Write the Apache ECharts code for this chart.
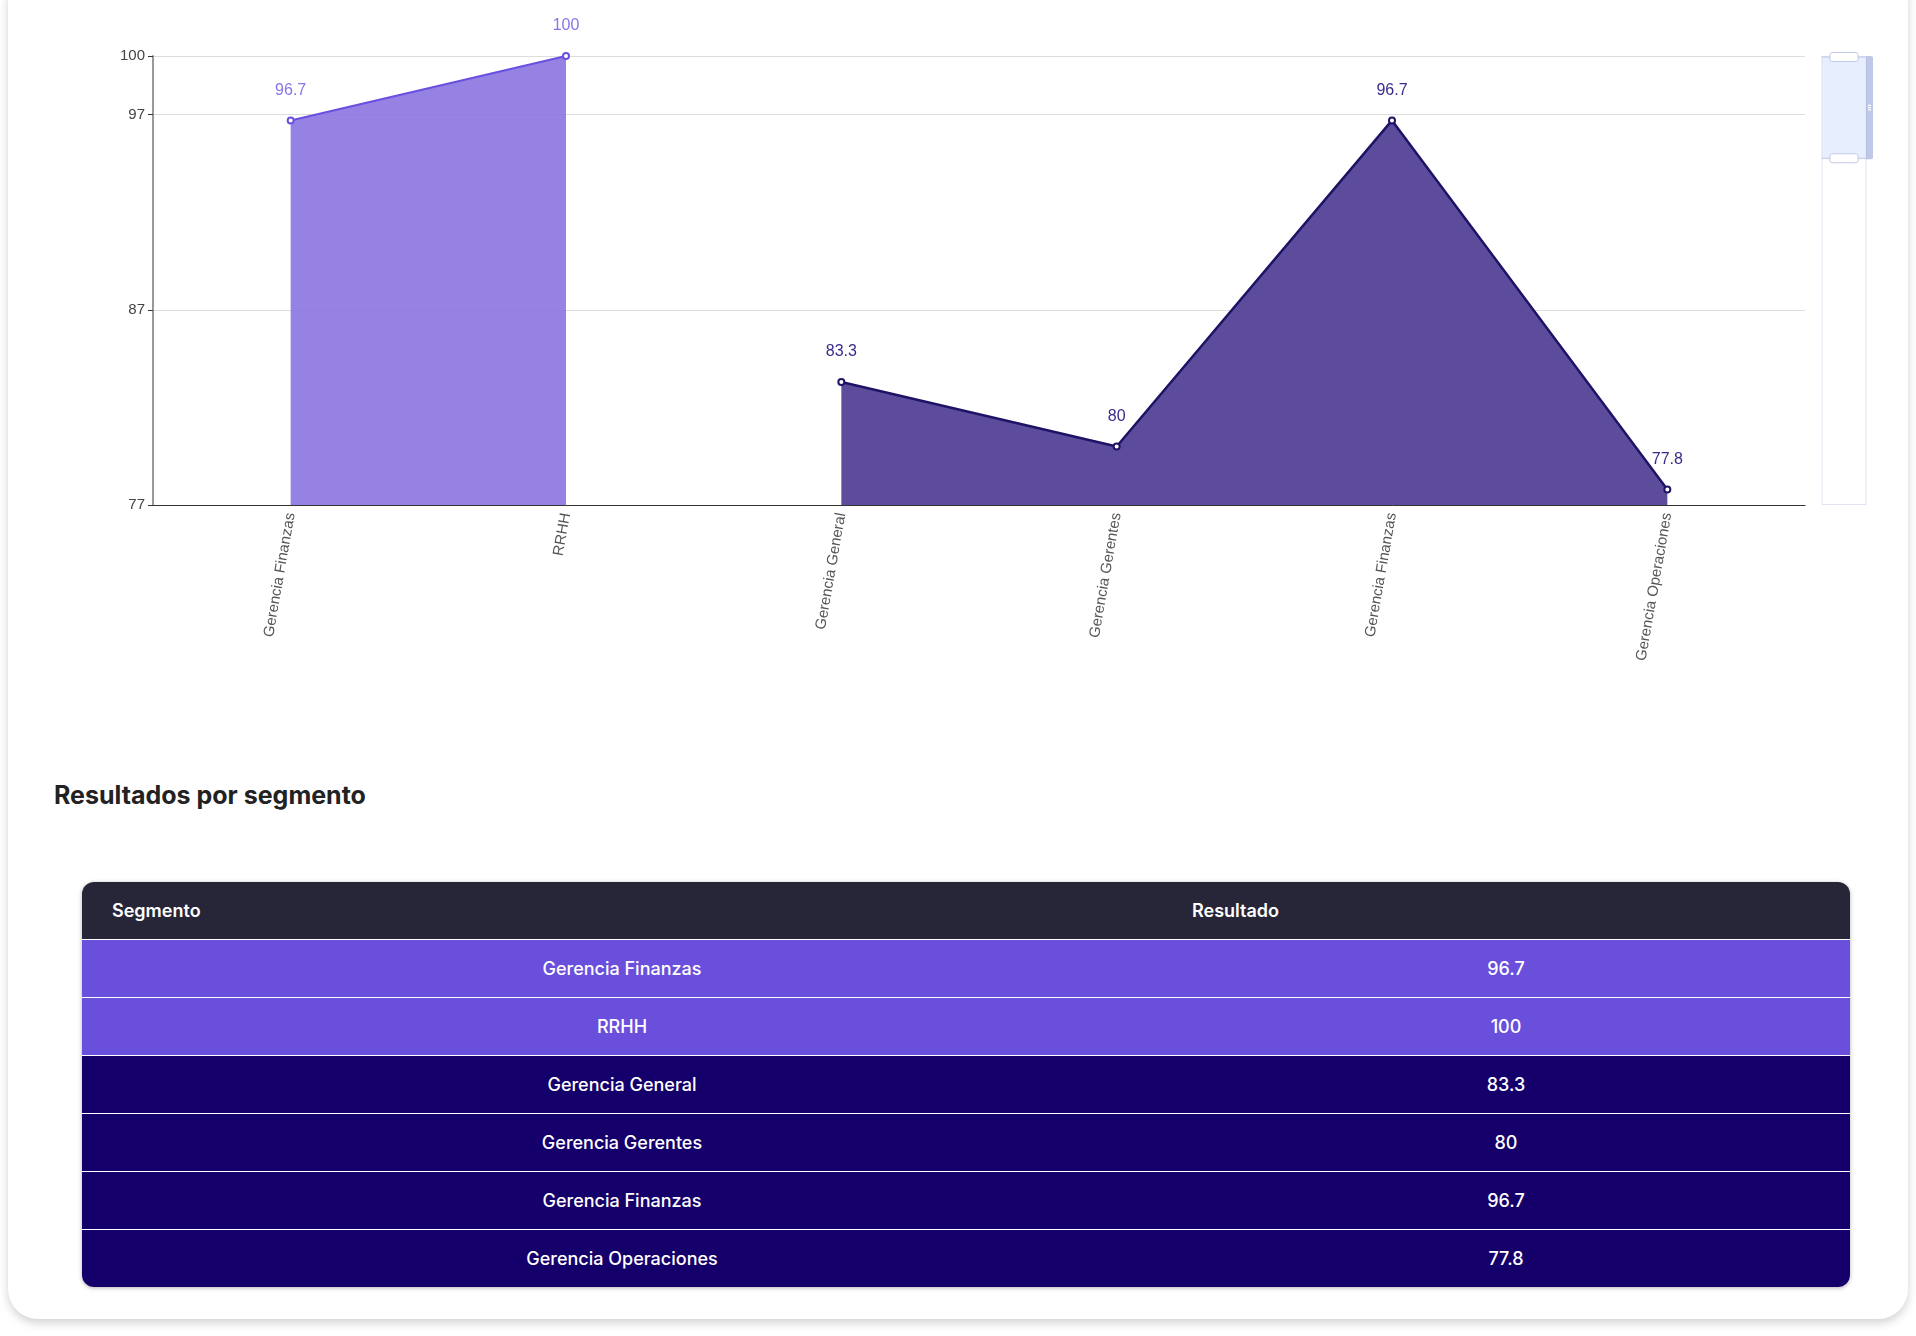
<!DOCTYPE html>
<html><head><meta charset="utf-8">
<script src="https://cdn.jsdelivr.net/npm/echarts@6/dist/echarts.min.js"></script>
<style>
body{margin:0;background:#fff;font-family:Inter,"Noto Sans",sans-serif;width:1916px;height:1336px;position:relative;overflow:hidden}
#card{position:absolute;left:8px;top:-30px;width:1900px;height:1349px;border-radius:30px;background:#fff;box-shadow:0 4px 10px rgba(0,0,0,0.18)}
#chart{position:absolute;left:0;top:0;width:1916px;height:760px}
#title{position:absolute;left:54px;top:780px;font-size:25px;font-weight:700;color:#222}
table{position:absolute;left:82px;top:882px;width:1768px;border-collapse:collapse;border-radius:12px;overflow:hidden;font-size:18px;color:#fff;box-shadow:0 1px 4px rgba(0,0,0,0.3)}
th{background:#262638;height:57px;text-align:left;padding:0 30px;font-weight:600}
td{height:55px;text-align:center;border-top:1px solid #fff;font-weight:500}
tr.a td{background:#6a4fdc} tr.b td{background:#15006b}
</style></head><body>
<div id="card"></div>
<div id="chart"></div>
<div id="title">Resultados por segmento</div>
<table id="tbl"><thead><tr><th style="width:1020px">Segmento</th><th>Resultado</th></tr></thead><tbody></tbody></table>
<script>
const categories=["Gerencia Finanzas","RRHH","Gerencia General","Gerencia Gerentes","Gerencia Finanzas","Gerencia Operaciones"];
const values=[96.7,100,83.3,80,96.7,77.8];
const group=["a","a","b","b","b","b"];
const s1=values.map((v,i)=>group[i]==="a"?v:"-");
const s2=values.map((v,i)=>group[i]==="b"?v:"-");
const tb=document.querySelector('#tbl tbody');
categories.forEach((c,i)=>{const tr=document.createElement('tr');tr.className=group[i];tr.innerHTML='<td>'+c+'</td><td>'+values[i]+'</td>';tb.appendChild(tr);});
const ch=echarts.init(document.getElementById('chart'));
ch.setOption({
 animation:false,
 grid:{left:153,right:111,top:56,bottom:255},
 xAxis:{type:'category',data:categories,boundaryGap:true,
  axisLine:{lineStyle:{color:'#333'}},axisTick:{lineStyle:{color:'#333'}},
  axisLabel:{rotate:80,color:'#555',fontSize:15,interval:0}},
 yAxis:[{type:'value',min:77,max:100,interval:10,
  axisLine:{show:true,lineStyle:{color:'#999',width:2}},axisTick:{show:true,lineStyle:{color:'#333'}},
  axisLabel:{color:'#444',fontSize:15,showMaxLabel:true},splitLine:{lineStyle:{color:'#ddd'}}},
  {type:'value',show:false,min:0,max:100}],
 dataZoom:[{type:'slider',yAxisIndex:1,orient:'vertical',right:50,width:45,top:56,bottom:255,start:77,end:100,showDetail:false,filterMode:'none'}],
 series:[
  {type:'line',data:s1,symbol:'emptyCircle',symbolSize:6,lineStyle:{color:'#6a4fe0',width:2},itemStyle:{color:'#6a4fe0'},
   areaStyle:{color:'#8b74e0',opacity:0.9},label:{show:true,position:'top',distance:18,color:'#8b74e8',fontSize:16}},
  {type:'line',data:s2,symbol:'emptyCircle',symbolSize:6,lineStyle:{color:'#1e1466',width:2.5},itemStyle:{color:'#1e1466'},
   areaStyle:{color:'#4f3d92',opacity:0.92},label:{show:true,position:'top',distance:18,color:'#3a2a8a',fontSize:16}}
 ]
});
</script></body></html>
